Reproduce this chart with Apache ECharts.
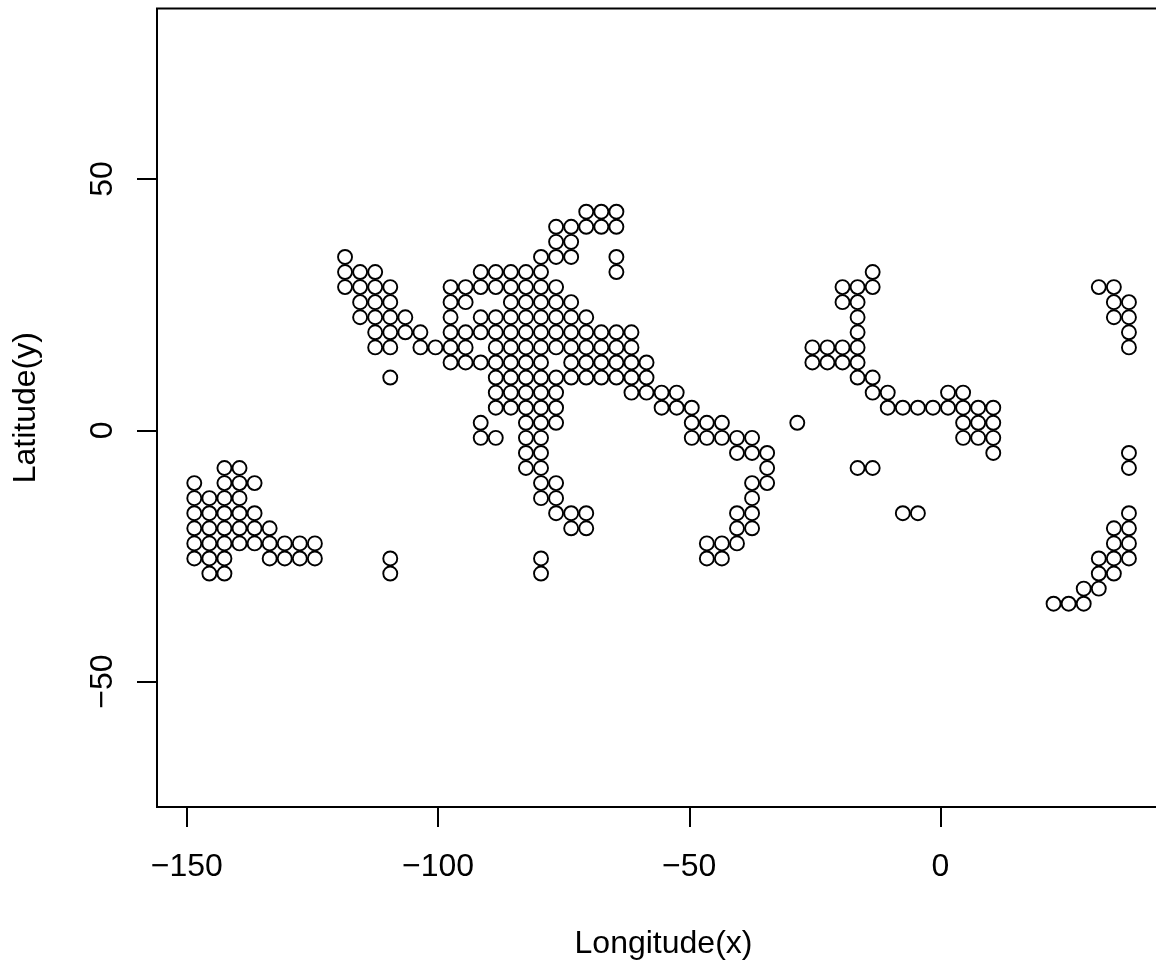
<!DOCTYPE html>
<html><head><meta charset="utf-8">
<style>html,body{margin:0;padding:0;background:#fff;overflow:hidden}#c{width:1156px;height:962px}</style>
<script src="https://cdn.jsdelivr.net/npm/echarts@6/dist/echarts.min.js"></script>
</head><body><div id="c"></div>
<script>
const xTicks = [-150,-100,-50,0];
const yTicks = [-50,0,50];
const xRange = [-155.92, 45.67];
const yRange = [-74.96, 83.94];
const xTitle = 'Longitude(x)';
const yTitle = 'Latitude(y)';
const lat43 = [-70.5,-67.5,-64.5];
const lat40 = [-76.5,-73.5,-70.5,-67.5,-64.5];
const lat37 = [-76.5,-73.5];
const lat34 = [-118.5,-79.5,-76.5,-73.5,-64.5];
const lat31 = [-118.5,-115.5,-112.5,-91.5,-88.5,-85.5,-82.5,-79.5,-64.5,-13.5];
const lat28 = [-118.5,-115.5,-112.5,-109.5,-97.5,-94.5,-91.5,-88.5,-85.5,-82.5,-79.5,-76.5,-19.5,-16.5,-13.5,31.5,34.5];
const lat25 = [-115.5,-112.5,-109.5,-97.5,-94.5,-85.5,-82.5,-79.5,-76.5,-73.5,-19.5,-16.5,34.5,37.5];
const lat22 = [-115.5,-112.5,-109.5,-106.5,-97.5,-91.5,-88.5,-85.5,-82.5,-79.5,-76.5,-73.5,-70.5,-16.5,34.5,37.5];
const lat19 = [-112.5,-109.5,-106.5,-103.5,-97.5,-94.5,-91.5,-88.5,-85.5,-82.5,-79.5,-76.5,-73.5,-70.5,-67.5,-64.5,-61.5,-16.5,37.5];
const lat16 = [-112.5,-109.5,-103.5,-100.5,-97.5,-94.5,-88.5,-85.5,-82.5,-79.5,-76.5,-73.5,-70.5,-67.5,-64.5,-61.5,-25.5,-22.5,-19.5,-16.5,37.5];
const lat13 = [-97.5,-94.5,-91.5,-88.5,-85.5,-82.5,-79.5,-73.5,-70.5,-67.5,-64.5,-61.5,-58.5,-25.5,-22.5,-19.5,-16.5];
const lat10 = [-109.5,-88.5,-85.5,-82.5,-79.5,-76.5,-73.5,-70.5,-67.5,-64.5,-61.5,-58.5,-16.5,-13.5];
const lat7 = [-88.5,-85.5,-82.5,-79.5,-76.5,-61.5,-58.5,-55.5,-52.5,-13.5,-10.5,1.5,4.5];
const lat4 = [-88.5,-85.5,-82.5,-79.5,-76.5,-55.5,-52.5,-49.5,-10.5,-7.5,-4.5,-1.5,1.5,4.5,7.5,10.5];
const lat1 = [-91.5,-82.5,-79.5,-76.5,-49.5,-46.5,-43.5,-28.5,4.5,7.5,10.5];
const latM1 = [-91.5,-88.5,-82.5,-79.5,-49.5,-46.5,-43.5,-40.5,-37.5,4.5,7.5,10.5];
const latM4 = [-82.5,-79.5,-40.5,-37.5,-34.5,10.5,37.5];
const latM7 = [-142.5,-139.5,-82.5,-79.5,-34.5,-16.5,-13.5,37.5];
const latM10 = [-148.5,-142.5,-139.5,-136.5,-79.5,-76.5,-37.5,-34.5];
const latM13 = [-148.5,-145.5,-142.5,-139.5,-79.5,-76.5,-37.5];
const latM16 = [-148.5,-145.5,-142.5,-139.5,-136.5,-76.5,-73.5,-70.5,-40.5,-37.5,-7.5,-4.5,37.5];
const latM19 = [-148.5,-145.5,-142.5,-139.5,-136.5,-133.5,-73.5,-70.5,-40.5,-37.5,34.5,37.5];
const latM22 = [-148.5,-145.5,-142.5,-139.5,-136.5,-133.5,-130.5,-127.5,-124.5,-46.5,-43.5,-40.5,34.5,37.5];
const latM25 = [-148.5,-145.5,-142.5,-133.5,-130.5,-127.5,-124.5,-109.5,-79.5,-46.5,-43.5,31.5,34.5,37.5];
const latM28 = [-145.5,-142.5,-109.5,-79.5,31.5,34.5];
const latM31 = [28.5,31.5];
const latM34 = [22.5,25.5,28.5];
const rows = [[43.5,lat43],[40.5,lat40],[37.5,lat37],[34.5,lat34],[31.5,lat31],[28.5,lat28],[25.5,lat25],[22.5,lat22],[19.5,lat19],[16.5,lat16],[13.5,lat13],[10.5,lat10],[7.5,lat7],[4.5,lat4],[1.5,lat1],[-1.5,latM1],[-4.5,latM4],[-7.5,latM7],[-10.5,latM10],[-13.5,latM13],[-16.5,latM16],[-19.5,latM19],[-22.5,latM22],[-25.5,latM25],[-28.5,latM28],[-31.5,latM31],[-34.5,latM34]];
const points = [];
rows.forEach(([la,lons])=>lons.forEach(lo=>points.push([lo,la])));
const FONT='"Liberation Sans", Arial, sans-serif';
const fmt = v => String(v).replace('-','\u2212');
const chart = echarts.init(document.getElementById('c'),null,{renderer:'canvas'});
chart.setOption({
  animation:false,
  backgroundColor:'#fff',
  grid:{left:157,top:8.5,width:1013,height:798.5,outerBoundsMode:'none',show:true,borderColor:'#000',borderWidth:2,backgroundColor:'transparent'},
  xAxis:{type:'value',min:xRange[0],max:xRange[1],name:xTitle,nameLocation:'middle',nameGap:121,
    nameTextStyle:{color:'#000',fontFamily:FONT,fontSize:32},
    splitLine:{show:false},
    axisLine:{show:false,onZero:false},
    axisTick:{show:true,length:20,lineStyle:{color:'#000',width:2},customValues:xTicks},
    axisLabel:{color:'#000',fontFamily:FONT,fontSize:32,margin:44,customValues:xTicks,formatter:fmt}},
  yAxis:{type:'value',min:yRange[0],max:yRange[1],name:yTitle,nameLocation:'middle',nameGap:115,
    nameTextStyle:{color:'#000',fontFamily:FONT,fontSize:32},
    splitLine:{show:false},
    axisLine:{show:false,onZero:false},
    axisTick:{show:true,length:20,lineStyle:{color:'#000',width:2},customValues:yTicks},
    axisLabel:{color:'#000',fontFamily:FONT,fontSize:32,margin:38,rotate:90,customValues:yTicks,formatter:fmt}},
  series:[{type:'scatter',data:points,symbol:'circle',symbolSize:14,clip:false,
    itemStyle:{color:'transparent',borderColor:'#000',borderWidth:1.9,opacity:1},
    emphasis:{disabled:true}}]
});
</script></body></html>
